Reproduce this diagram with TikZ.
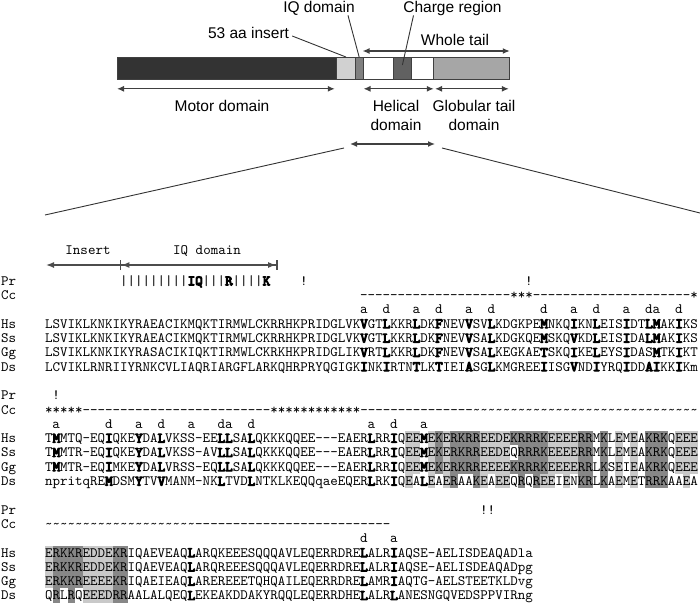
\documentclass[tikz,border=0pt]{standalone}
\usepackage{fontspec}
\setmainfont{Liberation Sans}
\setmonofont{lmmono10-regular.otf}
\newfontfamily\seqbold{lmmono10-regular.otf}[FakeBold=7]
\usetikzlibrary{arrows.meta}

\newcommand\B[1]{{\seqbold #1}}
\newcommand\rep[2]{\foreach\repi in {1,...,#1}{#2}}
\newcommand\rowy[1]{281+14.3*(#1)}

\begin{document}
\begin{tikzpicture}[x=1pt, y=-1pt,
    lbl/.style={font=\fontsize{15.5}{19}\selectfont, inner sep=0, align=center},
    seq/.style={font=\fontsize{14.29}{15}\ttfamily, inner sep=0, anchor=base west},
    res/.style={font=\fontsize{14.29}{15}\ttfamily, inner sep=0, anchor=base},
    seg/.style={draw=black!75, line width=0.8pt, inner sep=0, anchor=north west, minimum height=22pt},
    span/.style={{Latex[length=7pt,width=6pt]}-{Latex[length=7pt,width=6pt]}, line width=1.3pt, black!75},
    lead/.style={line width=0.9pt, black!80},
    light/.style={fill=black!21},
    dark/.style={fill=black!47}
]
\useasboundingbox (0,0) rectangle (700,615);

% Domain bar
\foreach \nm/\xa/\xb/\shade in {motor/117/336/80, ins/336/355/18, iq/355/362.5/50, helA/362.5/393/0,
    chg/393/411/62, helB/411/433/0, glob/433/509/35}
  \node[seg, fill=black!\shade, minimum width={\xb-\xa}] (\nm) at (\xa,57) {};

% Labels on top
\node[lbl] (iqlbl) at (319,8) {IQ domain};
\node[lbl] (chglbl) at (452.5,8) {Charge region};
\node[lbl] (inslbl) at (248.5,33) {53 aa insert};
\node[lbl] (taillbl) at (455,40) {Whole tail};
\draw[lead] ([xshift=3pt,yshift=-3pt]inslbl.east) -- (ins.north);
\draw[lead] ([xshift=-7pt]iqlbl.south east) -- (iq.north);
\draw[lead] ([xshift=-39pt]chglbl.south) -- ([yshift=-8pt]chg.north);
\draw[span] ([yshift=6pt]helA.north west) -- ([yshift=6pt]glob.north east);

% Domains below
\draw[span] ([yshift=-9pt]motor.south west) -- ([yshift=-9pt,xshift=-2pt]motor.south east);
\draw[span] ([yshift=-9pt,xshift=1pt]helA.south west) -- ([yshift=-9pt]helB.south east);
\draw[span] ([yshift=-9pt,xshift=2pt]glob.south west) -- ([yshift=-9pt,xshift=-1pt]glob.south east);
\node[lbl] (motorlbl) at (222,106) {Motor domain};
\node[lbl] (hellbl) at (396,115.5) {Helical\\domain};
\node[lbl] (globlbl) at (474,115.5) {Globular tail\\domain};

% Zoom into the helical domain
\coordinate (zl) at (350,144);
\coordinate (zr) at (435,144);
\coordinate (fanLa) at (344,148);
\coordinate (fanLb) at (45,215);
\coordinate (fanRa) at (442,148);
\coordinate (fanRb) at (700,213);
\draw[span] (zl) -- (zr);
\draw[lead] (fanLa) -- (fanLb);
\draw[lead] (fanRa) -- (fanRb);

% Insert and IQ domain
\node[res] (instxt) at (88,254) {Insert};
\node[res] (iqtxt) at (207,254) {IQ domain};
\coordinate (insL) at (46,265);
\coordinate (iqL) at (120,265);
\coordinate (iqR) at (277.5,265);
\draw[line width=1.4pt, black!70, {Latex[length=8pt,width=6pt]}-] (insL) -- (iqL);
\draw[line width=1.4pt, black!70, {Bar[width=10pt]Latex[length=8pt,width=6pt]}-{Latex[length=8pt,width=6pt]Bar[width=10pt]}] (iqL) -- (iqR);

% Charged residues: light = acidic, dark = basic
\foreach \n/\cols in {11/{49,50,52,54,59,60,61,62,68,69,70,71,77,79,85,86,87},
    12/{49,50,52,54,59,60,61,62,68,69,70,71,77,79,85,86,87},
    13/{49,50,52,54,59,60,61,62,68,69,70,71,77,79,85,86,87},
    14/{49,52,54,59,61,62,67,68,70,77,79,86},
    19/{1,6,7,8,9}, 20/{1,6,7,8,9}, 21/{1,6,7,8,9}, 22/{6,7,8,9}}
  \foreach \c in \cols
    \fill[light] ({37.5+7.5*\c},{\rowy{\n}-7.15}) rectangle ++(7.5,14.3);
\foreach \n/\cols in {11/{53,55,56,57,58,63,64,65,66,67,72,73,75,81,82,83},
    12/{53,55,56,57,58,64,65,66,67,72,73,75,81,82,83},
    13/{53,55,56,57,58,63,64,65,66,67,72,73,75,81,82,83},
    14/{55,58,64,66,72,73,75,81,82,83},
    19/{2,3,4,5,10,11}, 20/{2,3,4,5,10,11}, 21/{2,3,4,5,10,11}, 22/{2,4,10,11}}
  \foreach \c in \cols
    \fill[dark] ({37.5+7.5*\c},{\rowy{\n}-7.15}) rectangle ++(7.5,14.3);

% Row names
\foreach \b in {0,1,2}
  \foreach \r/\t in {0/Pr,1/Cc,3/Hs,4/Ss,5/Gg,6/Ds}
    \node[seq] (\t\b) at (1,{\rowy{8*\b+\r}+4.3}) {\t};

% Block 1
\node[seq] (pr1) at (120,{\rowy{0}+4.3}) {|||||||||\B{IQ}|||\B{R}||||\B{K}};
\foreach \c in {35,65}
  \node[res] (bang1-\c) at ({41.25+7.5*\c},{\rowy{0}+4.3}) {!};
\node[seq] (cc1) at (360,{\rowy{1}+4.3}) {\rep{20}{-}***\rep{21}{-}*};
\foreach \c/\h in {43/a,46/d,50/a,53/d,57/a,60/d,67/d,71/a,74/d,78/a,81/d,82/a,85/d}
  \node[res] (hep1-\c) at ({41.25+7.5*\c},{\rowy{2}+4.3}) {\h};
\node[seq] (hs1) at (45,{\rowy{3}+4.3}) {LSVIKLKNKIKYRAEACIKMQKTIRMWLCKRRHKPRIDGLVK\B{V}GT\B{L}KKR\B{L}DK\B{F}NEV\B{V}SV\B{L}KDGKPE\B{M}NKQ\B{I}KN\B{L}EIS\B{I}DT\B{LM}AK\B{I}KS};
\node[seq] (ss1) at (45,{\rowy{4}+4.3}) {LSVIKLKNKIKYRAEACIKMQKTIRMWLCKRRHKPRIDGLVK\B{V}GT\B{L}KKR\B{L}DK\B{F}NEV\B{V}SA\B{L}KDGKQE\B{M}SKQ\B{V}KD\B{L}EIS\B{I}DA\B{LM}AK\B{I}KS};
\node[seq] (gg1) at (45,{\rowy{5}+4.3}) {LSVIKLKNKIKYRASACIKIQKTIRMWLCKRKHKPRIDGLIK\B{V}RT\B{L}KKR\B{L}DK\B{F}NEV\B{V}SA\B{L}KEGKAE\B{T}SKQ\B{I}KE\B{L}EYS\B{I}DAS\B{M}TK\B{I}KT};
\node[seq] (ds1) at (45,{\rowy{6}+4.3}) {LCVIKLRNRIIYRNKCVLIAQRIARGFLARKQHRPRYQGIGK\B{I}NK\B{I}RTN\B{T}LK\B{T}IEI\B{A}SG\B{L}KMGREE\B{I}ISG\B{V}ND\B{I}YRQ\B{I}DD\B{AI}KK\B{I}Km};

% Block 2
\node[res] (bang2-2) at ({41.25+7.5*2},{\rowy{8}+4.3}) {!};
\node[seq] (cc2) at (45,{\rowy{9}+4.3}) {*****\rep{25}{-}************\rep{15}{-}\rep{30}{\textasciitilde}};
\foreach \c/\h in {2/a,9/d,13/a,16/d,20/a,24/d,25/a,28/d,44/a,47/d,51/a}
  \node[res] (hep2-\c) at ({41.25+7.5*\c},{\rowy{10}+4.3}) {\h};
\node[seq] (hs2) at (45,{\rowy{11}+4.3}) {T\B{M}MTQ-EQ\B{I}QKE\B{Y}DA\B{L}VKSS-EE\B{LL}SA\B{L}QKKKQQEE---EAER\B{L}RR\B{I}QEE\B{M}EKERKRREEDEKRRRKEEEERRMKLEMEAKRKQEEE};
\node[seq] (ss2) at (45,{\rowy{12}+4.3}) {T\B{M}MTR-EQ\B{I}QKE\B{Y}DA\B{L}VKSS-AV\B{LL}SA\B{L}QKKKQQEE---EAER\B{L}RR\B{I}QEE\B{M}EKERKRREEDEQRRRKEEEERRMKLEMEAKRKQEEE};
\node[seq] (gg2) at (45,{\rowy{13}+4.3}) {T\B{M}MTR-EQ\B{I}MKE\B{Y}DA\B{L}VRSS-EQ\B{LL}SA\B{L}QKKKQQEE---EAER\B{L}RR\B{I}QEE\B{M}EKERKRREEEEKRRRKEEEERRLKSEIEAKRKQEEE};
\node[seq] (ds2) at (45,{\rowy{14}+4.3}) {npritqRE\B{M}DSM\B{Y}TV\B{V}MANM-NK\B{L}TVD\B{L}NTKLKEQQqaeEQER\B{L}RK\B{I}QEA\B{L}EAERAAKEAEEQRQREEIENKRLKAEMETRRKAAEA};

% Block 3
\node[seq] (bang3) at ({45+7.5*58},{\rowy{16}+4.3}) {!!};
\node[seq] (cc3) at (45,{\rowy{17}+4.3}) {\rep{20}{\textasciitilde}\rep{26}{-}};
\foreach \c/\h in {43/d,47/a}
  \node[res] (hep3-\c) at ({41.25+7.5*\c},{\rowy{18}+4.3}) {\h};
\node[seq] (hs3) at (45,{\rowy{19}+4.3}) {ERKKREDDEKRIQAEVEAQ\B{L}ARQKEEESQQQAVLEQERRDRE\B{L}ALR\B{I}AQSE-AELISDEAQADla};
\node[seq] (ss3) at (45,{\rowy{20}+4.3}) {ERKKREDDEKRIQAEVEAQ\B{L}ARQREEESQQQAVLEQERRDRE\B{L}ALR\B{I}AQSE-AELISDEAQADpg};
\node[seq] (gg3) at (45,{\rowy{21}+4.3}) {ERKKREEEEKRIQAEIEAQ\B{L}AREREEETQHQAILEQERRDRE\B{L}AMR\B{I}AQTG-AELSTEETKLDvg};
\node[seq] (ds3) at (45,{\rowy{22}+4.3}) {QRLRQEEEDRRAALALQEQ\B{L}EKEAKDDAKYRQQLEQERRDHE\B{L}ALR\B{L}ANESNGQVEDSPPVIRng};

\end{tikzpicture}
\end{document}
